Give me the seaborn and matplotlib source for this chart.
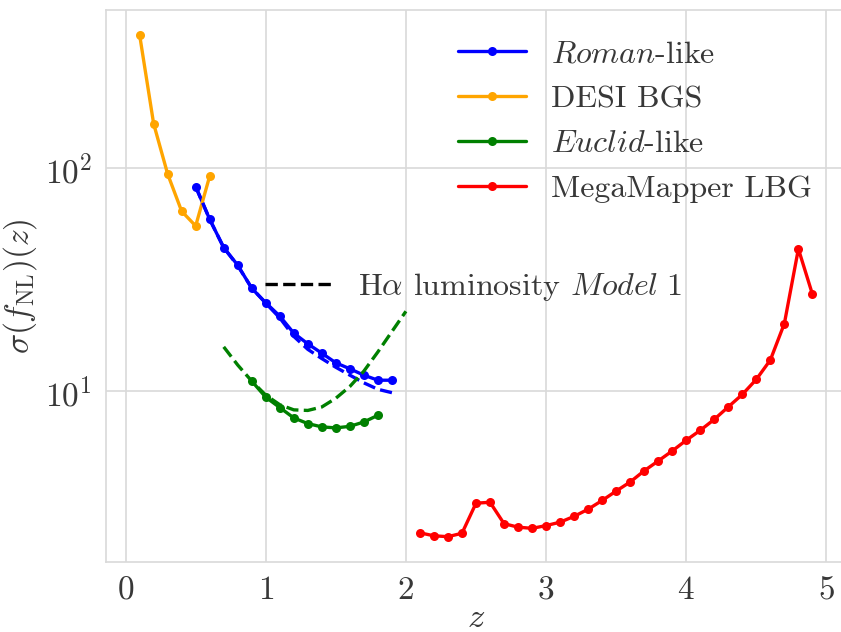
import numpy as np
import pandas as pd
import matplotlib
matplotlib.use("Agg")
import matplotlib.pyplot as plt
import seaborn as sns
from matplotlib.lines import Line2D

# ---- data ----
z_desi = [0.1, 0.2, 0.3, 0.4, 0.5, 0.6]
s_desi = [395, 158, 94, 64, 55, 92]

z_roman = [0.5, 0.6, 0.7, 0.8, 0.9, 1.0, 1.1, 1.2, 1.3, 1.4, 1.5, 1.6, 1.7, 1.8, 1.9]
s_roman = [82.5, 58.9, 44.0, 36.7, 28.9, 24.9, 21.7, 18.2, 16.3, 14.8, 13.4, 12.6, 11.8, 11.2, 11.2]
s_roman_model = [82.5, 58.9, 44.0, 36.5, 29.0, 24.8, 21.3, 17.6, 15.4, 14.0, 12.8, 11.8, 10.9, 10.2, 9.85]

z_euclid = [0.9, 1.0, 1.1, 1.2, 1.3, 1.4, 1.5, 1.6, 1.7, 1.8]
s_euclid = [11.1, 9.4, 8.45, 7.59, 7.16, 6.92, 6.85, 6.96, 7.28, 7.8]
z_euclid_model = [0.7, 0.8, 0.9, 1.0, 1.1, 1.2, 1.3, 1.4, 1.5, 1.6, 1.7, 1.8, 1.9, 2.0]
s_euclid_model = [15.8, 13.1, 11.1, 9.6, 8.7, 8.25, 8.2, 8.5, 9.3, 10.5, 12.3, 15.0, 18.5, 22.8]

z_mm = [2.1, 2.2, 2.3, 2.4, 2.5, 2.6, 2.7, 2.8, 2.9, 3.0, 3.1, 3.2, 3.3, 3.4, 3.5,
        3.6, 3.7, 3.8, 3.9, 4.0, 4.1, 4.2, 4.3, 4.4, 4.5, 4.6, 4.7, 4.8, 4.9]
s_mm = [2.32, 2.25, 2.23, 2.31, 3.15, 3.18, 2.55, 2.46, 2.43, 2.50, 2.59, 2.75, 2.96, 3.24, 3.57,
        3.92, 4.40, 4.87, 5.40, 6.03, 6.68, 7.48, 8.51, 9.67, 11.3, 13.8, 20.1, 43.4, 27.2]

labels = [r"$\mathit{Roman}$-like", "DESI BGS", r"$\mathit{Euclid}$-like", "MegaMapper LBG"]
model_label = r"H$\alpha$ luminosity $\mathit{Model\ 1}$"

# ---- style ----
sns.set_theme(style="whitegrid")
plt.rcParams["font.family"] = ["cmr10", "DejaVu Serif"]
plt.rcParams["mathtext.fontset"] = "cm"
plt.rcParams["axes.unicode_minus"] = False
plt.rcParams["axes.formatter.use_mathtext"] = True
plt.rcParams["text.color"] = "0.22"
plt.rcParams["xtick.color"] = "0.22"
plt.rcParams["ytick.color"] = "0.22"
plt.rcParams["axes.labelcolor"] = "0.22"

fig = plt.figure(figsize=(8.41, 6.32), dpi=100)
ax = fig.add_axes([0.126, 0.111, 0.880, 0.8737])

lw = 2.4
ms = 6.5
series = [
    (z_roman, s_roman, "blue", labels[0]),
    (z_desi, s_desi, "orange", labels[1]),
    (z_euclid, s_euclid, "green", labels[2]),
    (z_mm, s_mm, "red", labels[3]),
]
for zz, ss, col, lab in series:
    df = pd.DataFrame({"z": zz, "s": ss})
    sns.lineplot(data=df, x="z", y="s", ax=ax, color=col, marker="o", markersize=ms,
                 markeredgewidth=0, linewidth=lw, label=lab, sort=False)

df_rm = pd.DataFrame({"z": z_roman, "s": s_roman_model})
sns.lineplot(data=df_rm, x="z", y="s", ax=ax, color="blue", linestyle="--", linewidth=lw, legend=False)
df_em = pd.DataFrame({"z": z_euclid_model, "s": s_euclid_model})
sns.lineplot(data=df_em, x="z", y="s", ax=ax, color="green", linestyle="--", linewidth=lw, legend=False)

ax.set_yscale("log")
ax.set_xlim(-0.14, 5.14)
ax.set_ylim(1.72, 512)
ax.set_xticks([0, 1, 2, 3, 4, 5])
ax.grid(True, which="major", color="0.85", linewidth=1.2)
ax.grid(False, which="minor")
for sp in ax.spines.values():
    sp.set_color("0.85")
    sp.set_linewidth(1.2)

ax.tick_params(axis="both", which="major", labelsize=24, pad=4)
ax.tick_params(axis="y", which="minor", length=0)
ax.set_xlabel(r"$z$", fontsize=25, labelpad=-2)
ax.set_ylabel(r"$\sigma(f_{\rm NL})(z)$", fontsize=24, labelpad=4)

leg1 = ax.legend(loc="upper right", bbox_to_anchor=(0.993, 0.997), fontsize=23, frameon=False,
                 handlelength=2.1, handletextpad=0.8, labelspacing=0.52)
ax.add_artist(leg1)
h = Line2D([], [], color="black", linestyle="--", linewidth=lw)
ax.legend([h], [model_label], loc="center left", bbox_to_anchor=(0.176, 0.497), fontsize=23,
          frameon=False, handlelength=2.1, handletextpad=0.8)

fig.savefig("out.png", dpi=100)
